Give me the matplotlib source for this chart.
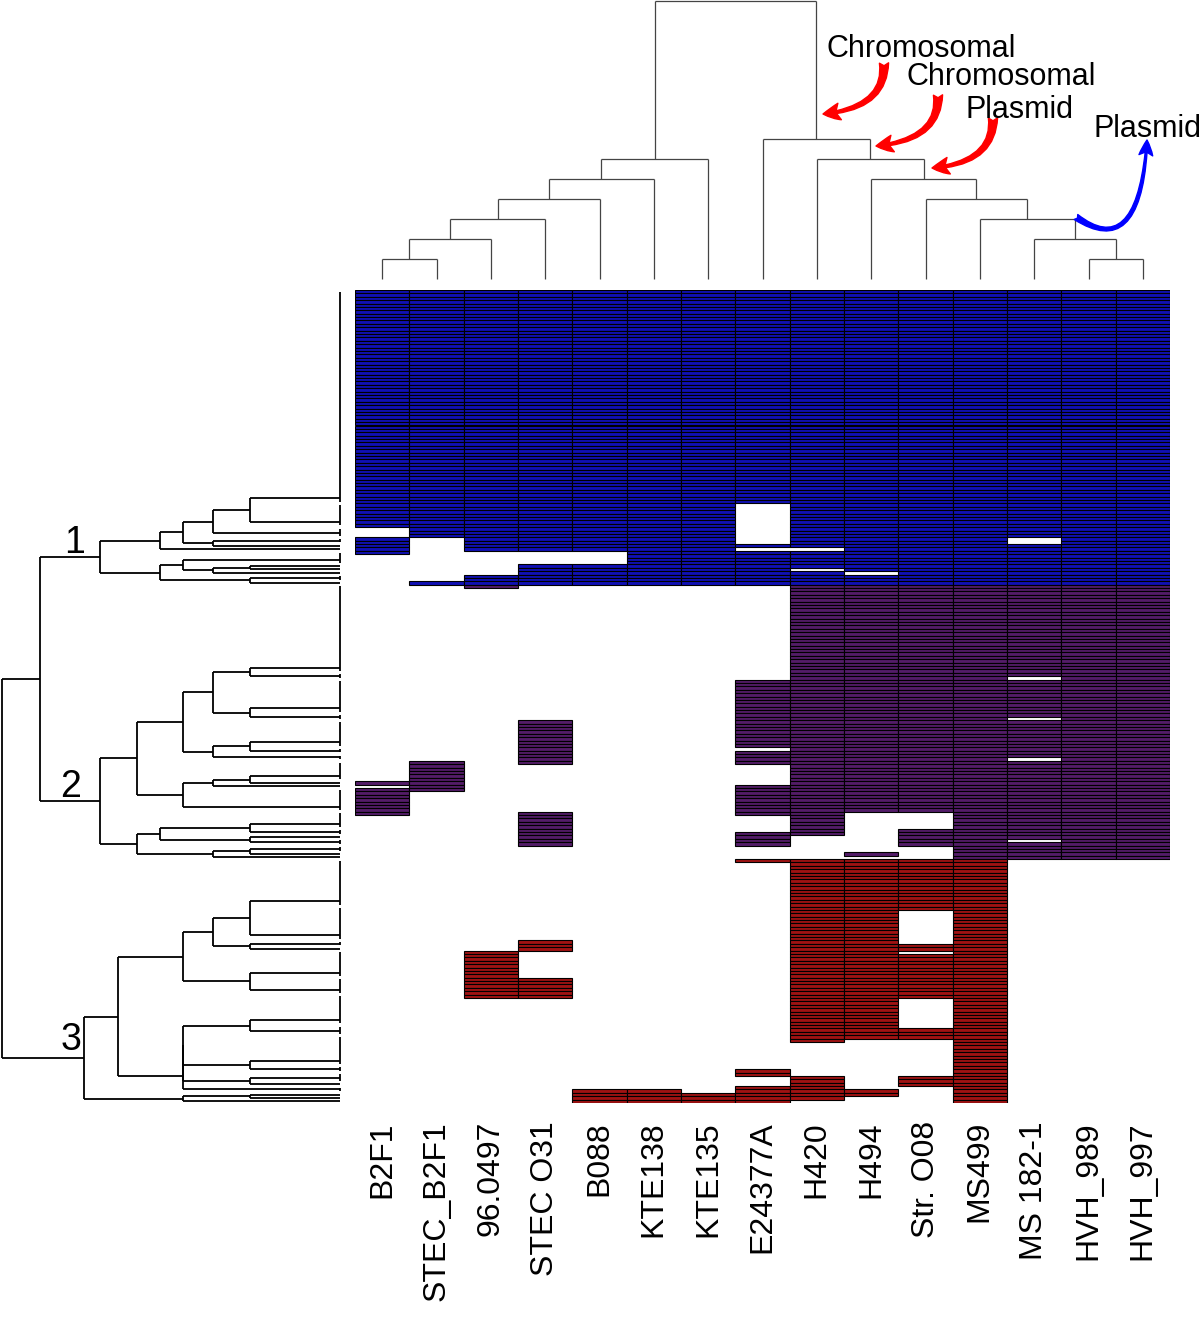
import matplotlib
matplotlib.use('Agg')
import matplotlib.pyplot as plt
from matplotlib.collections import LineCollection
from matplotlib.patches import FancyArrowPatch
from matplotlib.path import Path

plt.rcParams['font.family'] = ['Liberation Sans', 'DejaVu Sans']

strains = ['B2F1', 'STEC_B2F1', '96.0497', 'STEC O31', 'B088', 'KTE138', 'KTE135',
           'E24377A', 'H420', 'H494', 'Str. O08', 'MS499', 'MS 182-1', 'HVH_989', 'HVH_997']
n_rows = 240
cluster_starts = [0, 87, 168]          # first gene row of clusters 1, 2, 3
cluster_colors = ['#1010b4', '#531c68', '#a01212']
cluster_names = ['1', '2', '3']

# gene rows present in each strain (inclusive row ranges, top to bottom)
present = {
    'B2F1':      [(0, 69), (73, 77), (145, 145), (147, 154)],
    'STEC_B2F1': [(0, 72), (86, 86), (139, 147)],
    '96.0497':   [(0, 76), (84, 87), (195, 208)],
    'STEC O31':  [(0, 76), (81, 86), (127, 139), (154, 163), (192, 194), (203, 208)],
    'B088':      [(0, 76), (81, 86), (236, 239)],
    'KTE138':    [(0, 86), (236, 239)],
    'KTE135':    [(0, 86), (237, 239)],
    'E24377A':   [(0, 62), (75, 75), (77, 86), (115, 134), (136, 139), (146, 154),
                  (160, 163), (168, 168), (230, 231), (235, 239)],
    'H420':      [(0, 75), (77, 81), (83, 160), (168, 221), (232, 238)],
    'H494':      [(0, 82), (84, 153), (166, 166), (168, 220), (236, 237)],
    'Str. O08':  [(0, 153), (159, 163), (168, 182), (193, 194), (196, 208),
                  (218, 220), (232, 234)],
    'MS499':     [(0, 239)],
    'MS 182-1':  [(0, 72), (75, 113), (115, 125), (127, 137), (139, 161), (163, 167)],
    'HVH_989':   [(0, 167)],
    'HVH_997':   [(0, 167)],
}

# column dendrogram: (height, left, right), leaves are strain indices
col_tree = (278,
            (120, (100, (80, (60, (40, (20, 0, 1), 2), 3), 4), 5), 6),
            (140, 7, (120, 8, (100, 9, (80, 10, (60, 11, (40, 12, (20, 13, 14))))))))

# row dendrogram: leaves are blocks of identical rows (first, last)
clust1 = (240,
          (180, (157, (127, (90, (0, 62), (63, 69)), (70, 72)),
                      (127, (73, 74), (75, 75))),
                (76, 76)),
          (180, (157, (77, 80), (127, (90, (81, 81), (82, 82)), (83, 83))),
                (90, (84, 85), (86, 86))))
clust2 = (240,
          (203, (157, (127, (90, (87, 112), (113, 114)), (90, (115, 124), (125, 126))),
                      (127, (90, (127, 134), (135, 136)), (137, 138))),
                (157, (127, (90, (139, 144), (145, 145)), (146, 146)), (147, 153))),
          (203, (180, (90, (154, 158), (159, 160)), (90, (161, 161), (162, 163))),
                (127, (90, (164, 165), (166, 166)), (167, 167))))
clust3 = (256,
          (222, (157, (127, (90, (168, 181), (182, 191)), (90, (192, 193), (194, 194))),
                      (90, (195, 202), (203, 207))),
                (157, (157, (157, (90, (208, 216), (217, 219)), (90, (220, 228), (229, 230))),
                            (90, (231, 233), (234, 234))),
                      (235, 236))),
          (157, (90, (237, 237), (238, 238)), (239, 239)))
row_tree = (338, (300, clust1, clust2), clust3)


def leaf_pos(s, e):
    # identical rows are joined one after another at height 0
    p = s + 0.5
    for r in range(s + 1, e + 1):
        p = (p + r + 0.5) / 2
    return p


def walk(node, segs):
    if isinstance(node, int):
        return node + 0.5, 0
    if len(node) == 2:
        s, e = node
        segs.append([(s + 0.5, 0), (e + 0.5, 0)])
        return leaf_pos(s, e), 0
    h, a, b = node
    pa, ha = walk(a, segs)
    pb, hb = walk(b, segs)
    segs.append([(pa, ha), (pa, h)])
    segs.append([(pb, hb), (pb, h)])
    segs.append([(pa, h), (pb, h)])
    return (pa + pb) / 2, h


def row_color(r):
    k = sum(1 for s in cluster_starts if r >= s) - 1
    return cluster_colors[k]


W, H = 1200, 1334
fig = plt.figure(figsize=(W / 100, H / 100), dpi=100)

def fpx(x, y):
    return x / W, 1 - y / H

# heatmap
ax = fig.add_axes([355 / W, 1 - 1103 / H, 815 / W, 813 / H])
xs, ys, cs = [], [], []
for j, name in enumerate(strains):
    for s, e in present[name]:
        for r in range(s, e + 1):
            xs.append(j)
            ys.append(r)
            cs.append(row_color(r))
ax.bar(xs, 1, bottom=ys, width=1, align='edge', color=cs,
       edgecolor='black', linewidth=0.8)
ax.set_xlim(0, len(strains))
ax.set_ylim(n_rows, 0)
ax.set_xticks([j + 0.5 for j in range(len(strains))])
ax.set_xticklabels(strains, rotation=90, fontsize=23)
ax.set_yticks([])
ax.tick_params(length=0, pad=13)
for sp in ax.spines.values():
    sp.set_visible(False)

# column dendrogram
axc = fig.add_axes([355 / W, 1 - 281 / H, 815 / W, 281 / H])
segs = []
walk(col_tree, segs)
axc.add_collection(LineCollection(segs, colors='#444444', linewidths=0.9))
axc.set_xlim(0, len(strains))
axc.set_ylim(-2, 279)
axc.axis('off')

# row dendrogram
axr = fig.add_axes([0, 1 - 1103 / H, 342 / W, 813 / H])
segs = []
walk(row_tree, segs)
segs = [[(h, p) for p, h in s] for s in segs]
axr.add_collection(LineCollection(segs, colors='black', linewidths=1.3, clip_on=False))
axr.set_xlim(340, -2)
axr.set_ylim(n_rows, 0)
axr.axis('off')
for name, (x, y) in zip(cluster_names, [(75, 553), (71, 797), (71, 1050)]):
    fig.text(*fpx(x, y), name, fontsize=27, ha='center', va='baseline')

# annotations
labels = [('Chromosomal', 826, 57), ('Chromosomal', 907, 85),
          ('Plasmid', 965, 118), ('Plasmid', 1093, 137)]
for txt, x, y in labels:
    fig.text(*fpx(x, y), txt, fontsize=22, ha='left', va='baseline')

arrows = [((884, 63), (886, 108), (823, 114), 'red'),
          ((938, 95), (940, 140), (876, 146), 'red'),
          ((993, 118), (994, 163), (932, 168), 'red'),
          ((1076, 217), (1140, 262), (1147, 140), 'blue')]
for a, c, b, col in arrows:
    path = Path([fpx(*a), fpx(*c), fpx(*b)], [Path.MOVETO, Path.CURVE3, Path.CURVE3])
    path = fig.transFigure.transform_path(path)
    style = 'fancy,head_length=0.55,head_width=0.55,tail_width=0.3'
    if col == 'blue':
        style = 'fancy,head_length=0.5,head_width=0.45,tail_width=0.2'
    arr = FancyArrowPatch(path=path, arrowstyle=style, mutation_scale=22,
                          color=col, transform=None)
    fig.patches.append(arr)

fig.savefig('out.png', dpi=100)
